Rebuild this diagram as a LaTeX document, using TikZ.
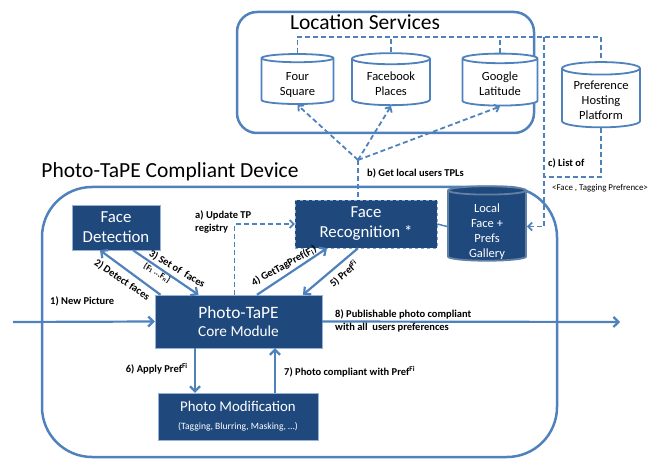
\documentclass[tikz,border=0pt]{standalone}
\usepackage{fontspec}
\setmainfont{Carlito}
\usetikzlibrary{shapes.geometric,arrows.meta}
\definecolor{lineblue}{RGB}{79,129,189}
\definecolor{boxblue}{RGB}{31,73,125}
\newcommand\lowered[2]{\raisebox{-#1}[\height][\depth]{\begin{tabular}{@{}c@{}}#2\end{tabular}}}

\begin{document}
\begin{tikzpicture}[x=1pt, y=-1pt,
		group/.style={draw=lineblue, line width=2.5pt},
		module/.style={fill=boxblue, draw=lineblue!60, text=white, align=center, inner sep=0pt},
		store/.style={cylinder, shape border rotate=90, aspect=0.22, draw=lineblue, line width=1.8pt, fill=white, inner sep=1pt, font=\fontsize{12.5}{15}\selectfont},
		flow/.style={draw=lineblue, line width=2.2pt, -{Straight Barb[length=5pt,width=10pt]}},
		query/.style={draw=lineblue, line width=1.8pt, dash pattern=on 5pt off 3pt},
		tag/.style={font=\bfseries\fontsize{10.5}{13}\selectfont, align=left, inner sep=1pt}]
		\useasboundingbox (0,0) rectangle (652,462);
		% location services
		\draw [group, rounded corners=20pt] (237,12) rectangle (534,133);
		\node (lstitle) at (365,22) {\fontsize{21.5}{24}\selectfont Location Services};
		\node [store, minimum width=72pt, minimum height=50pt] (four) at (297.5,82) {\lowered{3pt}{Four\\Square}};
		\node [store, minimum width=78pt, minimum height=52pt] (facebook) at (391,83) {\lowered{2pt}{Facebook\\Places}};
		\node [store, minimum width=75pt, minimum height=52pt] (google) at (500,83) {\lowered{2pt}{Google\\Latitude}};
		\node [store, minimum width=78pt, minimum height=58pt] (pref) at (601,99) {\lowered{3pt}{Preference\\Hosting\\Platform}};
		% device
		\draw [group, rounded corners=50pt] (42,187) rectangle (557,457);
		\node (devtitle) at (170,172) {\fontsize{21.5}{24}\selectfont Photo-TaPE Compliant Device};
		\node [module, minimum width=88pt, minimum height=45pt, font=\fontsize{16.8}{20}\selectfont] (detect) at (116,227.5) {Face\\Detection};
		\node [module, draw=lineblue!70, dashed, minimum width=142pt, minimum height=48pt, font=\fontsize{16.8}{20}\selectfont] (recog) at (366,224) {Face\\Recognition *};
		\node [store, fill=boxblue, draw=boxblue!70!white, text=white, minimum width=78pt, minimum height=63pt] (gallery) at (487,226.5) {\lowered{5pt}{Local\\Face +\\Prefs\\Gallery}};
		\node [module, minimum width=167pt, minimum height=53pt, font=\fontsize{15}{18}\selectfont] (core) at (238.5,321.5) {{\fontsize{17.4}{18}\selectfont Photo-TaPE}\\{\fontsize{15.3}{18}\selectfont Core Module}};
		\node [module, minimum width=160pt, minimum height=47pt, font=\fontsize{13}{18}\selectfont] (mod) at (238,416.5) {{\fontsize{14.8}{18}\selectfont Photo Modification}\\{\fontsize{9.6}{18}\selectfont (Tagging, Blurring, Masking, \dots)}};
		% dashed links
		\coordinate (bus) at (450,37);
		\coordinate (relay) at (544,37);
		\coordinate (list turn) at (544,177);
		\coordinate (tpl hub) at (358,160);
		\draw [query] (four.north) -- (four.north |- bus) -| (pref.north);
		\draw [query] (facebook.north) -- (facebook.north |- bus);
		\draw [query] (google.north) -- (google.north |- bus);
		\draw [query, -{Straight Barb[length=4pt,width=8pt]}] (relay) -- (relay |- gallery.east) -- (gallery.east);
		\draw [query] (pref.south) |- (list turn);
		\draw [query, -{Straight Barb[length=4pt,width=8pt]}] (tpl hub) -- (four.south);
		\draw [query, -{Straight Barb[length=4pt,width=8pt]}] (tpl hub) -- (facebook.south);
		\draw [query, -{Straight Barb[length=4pt,width=8pt]}] (tpl hub) -- (google.south);
		\draw [query] (tpl hub) -- (tpl hub |- recog.north);
		\draw [query, -{Straight Barb[length=4pt,width=8pt]}] ([xshift=-4pt]core.north) |- (recog.west);
		\draw [lineblue, line width=1.5pt] (recog.east) -- (gallery.west);
		% solid flows
		\coordinate (input) at (13,322);
		\coordinate (output) at (620,322);
		\draw [flow] (input) -- (core.west);
		\draw [flow] (core.east) -- (output);
		\draw [flow] ([xshift=-78pt]core.north) -- ([xshift=-16pt]detect.south);
		\draw [flow] ([xshift=17pt]detect.south) -- ([xshift=-40pt]core.north);
		\draw [flow] ([xshift=18.5pt]core.north) -- ([xshift=-39pt]recog.south);
		\draw [flow] ([xshift=-8pt]recog.south) -- ([xshift=64.5pt]core.north);
		\draw [flow] ([xshift=-43.5pt]core.south) -- ([xshift=-43pt]mod.north);
		\draw [flow] ([xshift=37pt]mod.north) -- ([xshift=36.5pt]core.south);
		% labels
		\node [tag, anchor=west] (lblb) at (366,173) {b) Get local users TPLs};
		\node [tag, anchor=west] (lblc) at (547,163) {c) List of};
		\node [anchor=west, inner sep=1pt, font=\fontsize{8.9}{10}\selectfont] (lblpair) at (551,188) {<Face , Tagging Prefrence>};
		\node [tag, anchor=west] (lbla) at (194,221.5) {a) Update TP\\registry};
		\node [tag, anchor=west] (lbl1) at (49,301) {1) New Picture};
		\node [tag, anchor=west] (lbl8) at (334,320.5) {8) Publishable photo compliant\\with all\ \ users preferences};
		\node [tag, anchor=east] (lbl6) at (189,369) {6) Apply Pref\textsuperscript{Fi}};
		\node [tag, anchor=west] (lbl7) at (283,372) {7) Photo compliant with Pref\textsuperscript{Fi}};
		\node [tag, rotate=-34] (lbl2) at (122,280) {2) Detect faces};
		\node [tag, rotate=-31] (lbl3) at (177,269) {3) Set of\ \ faces};
		\node [tag, rotate=-31, font=\bfseries\fontsize{8.5}{10}\selectfont] (lbl3b) at (157,273) {\{F\textsubscript{1} ...F\textsubscript{n}\}};
		\node [tag, rotate=29] (lbl4) at (284,266) {4) GetTagPref(F\textsubscript{i})};
		\node [tag, rotate=40] (lbl5) at (344,274) {5) Pref\textsuperscript{Fi}};
	\end{tikzpicture}
\end{document}
